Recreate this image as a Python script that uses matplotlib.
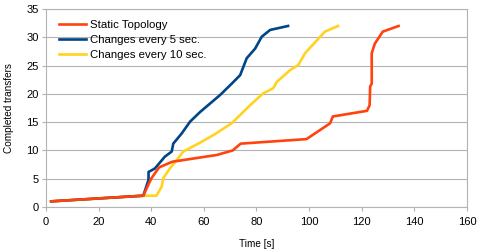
import matplotlib
matplotlib.use("Agg")
import matplotlib.pyplot as plt

plt.rcParams['font.family'] = ['Liberation Sans', 'DejaVu Sans']

# tiempos [s] y transferencias completadas
static_t = [2, 37, 40, 43, 48, 65, 71, 74, 99, 108, 109, 122, 123, 123.2, 123.8, 123.8, 125, 128, 134]
static_n = [1, 2, 5, 7, 8, 9.2, 10, 11.2, 12, 14.8, 16, 17, 18, 21.3, 21.8, 27.2, 28.9, 31, 32]

cada5_t = [2, 37, 39, 39, 41.4, 45.2, 47.8, 48.4, 51.6, 54.8, 58.6, 62.4, 66.2, 70.6, 73.8, 76.3, 79.5, 82, 85.2, 92]
cada5_n = [1, 2, 4.8, 6.2, 6.8, 8.9, 9.8, 11.2, 13, 15.1, 16.8, 18.3, 19.8, 21.8, 23.3, 26.3, 28, 30.1, 31.3, 32]

cada10_t = [2, 37, 42, 44, 44.6, 47.1, 49.7, 52.2, 57.9, 63.6, 70.6, 77.6, 82.6, 86.4, 87.7, 92.8, 95.9, 98.5, 106, 111]
cada10_n = [1, 2, 2, 3.6, 5.1, 6.8, 8.3, 9.8, 11.2, 12.7, 14.8, 18, 20.1, 21, 22.1, 24.2, 25.1, 27.2, 31, 32]

fig = plt.figure(figsize=(4.78, 2.5), dpi=100)
ax = fig.add_axes([0.096, 0.172, 0.881, 0.792])

ax.plot(cada10_t, cada10_n, color='#ffd320', lw=1.9, label='Changes every 10 sec.', zorder=3)
ax.plot(cada5_t, cada5_n, color='#004586', lw=1.9, label='Changes every 5 sec.', zorder=4)
ax.plot(static_t, static_n, color='#ff420e', lw=1.9, label='Static Topology', zorder=5)

ax.set_xlim(0, 160)
ax.set_ylim(0, 35)
ax.set_xticks(range(0, 161, 20))
ax.set_yticks(range(0, 36, 5))
ax.yaxis.grid(True, color='#b3b3b3', lw=0.8)
ax.set_axisbelow(True)
for s in ax.spines.values():
    s.set_color('#b3b3b3')
    s.set_linewidth(0.8)
ax.tick_params(axis='both', length=3, color='#b3b3b3', labelsize=8)
ax.tick_params(axis='x', pad=4)
ax.tick_params(axis='y', pad=2)

ax.set_xlabel('Time [s]', fontsize=7.2)
ax.set_ylabel('Completed transfers', fontsize=7.2)
ax.xaxis.set_label_coords(0.5, -0.16)
ax.yaxis.set_label_coords(-0.076, 0.5)

h, l = ax.get_legend_handles_labels()
ax.legend(h[::-1], l[::-1], loc='upper left', frameon=False, fontsize=8.2,
          handlelength=2.3, handletextpad=0.4, labelspacing=0.45,
          borderpad=0, borderaxespad=0, bbox_to_anchor=(0.032, 0.945))

fig.savefig('out.png', dpi=100)
